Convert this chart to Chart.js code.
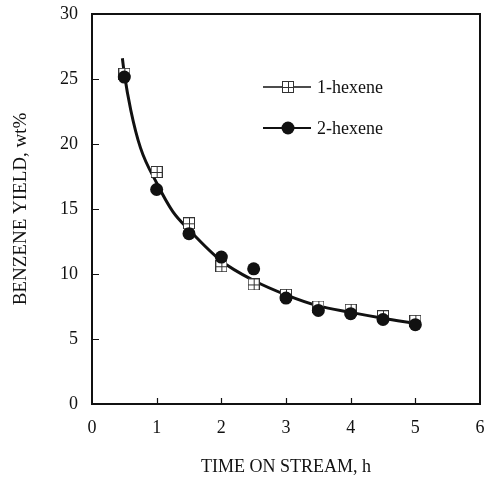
<!DOCTYPE html>
<html>
<head>
<meta charset="utf-8">
<script src="https://cdn.jsdelivr.net/npm/chart.js@4"></script>
<style>
  html, body { margin: 0; padding: 0; background: #fff; }
  #wrap { width: 487px; height: 478px; }
</style>
</head>
<body>
<div id="wrap"><canvas id="chart" width="487" height="478"></canvas></div>
<script>
// ================== Data ==================
const hours = [0.5, 1, 1.5, 2, 2.5, 3, 3.5, 4, 4.5, 5];
const hexene1 = [25.4, 17.85, 13.9, 10.6, 9.2, 8.4, 7.5, 7.25, 6.75, 6.4];
const hexene2 = [25.15, 16.5, 13.1, 11.3, 10.4, 8.15, 7.2, 6.95, 6.5, 6.1];

// smooth trend line
const fitHours = [0.47, 0.5, 0.6, 0.75, 1, 1.25, 1.5, 2, 2.5, 3, 3.5, 4, 4.5, 5];
const fitYield = [26.6, 25.4, 22.6, 19.7, 17.0, 14.8, 13.4, 11.0, 9.5, 8.4, 7.55, 7.05, 6.6, 6.2];

const xTicks = [0, 1, 2, 3, 4, 5, 6];
const yTicks = [0, 5, 10, 15, 20, 25, 30];
const seriesNames = ["1-hexene", "2-hexene"];

const FONT = "'Liberation Serif', 'Times New Roman', serif";
const INK = "#111";

// ================== Helpers ==================
const toPoints = (xs, ys) => xs.map((x, i) => ({ x: x, y: ys[i] }));

// square with a plus inside (1-hexene marker)
function makeBoxMarker(size) {
  const c = document.createElement("canvas");
  c.width = size;
  c.height = size;
  const g = c.getContext("2d");
  g.fillStyle = "#fff";
  g.fillRect(0, 0, size, size);
  g.strokeStyle = "#333";
  g.lineWidth = 1;
  g.strokeRect(0.5, 0.5, size - 1, size - 1);
  const m = Math.floor(size / 2) + 0.5;
  g.beginPath();
  g.moveTo(m, 1); g.lineTo(m, size - 1);
  g.moveTo(1, m); g.lineTo(size - 1, m);
  g.stroke();
  return c;
}
const boxMarker = makeBoxMarker(12);

// ================== Plugins ==================
// frame plus inward tick marks
const framePlugin = {
  id: "frame",
  afterDatasetsDraw(chart) {
    const { ctx, chartArea: a, scales } = chart;
    ctx.save();
    ctx.strokeStyle = INK;
    ctx.lineWidth = 2;
    ctx.strokeRect(a.left, a.top, a.right - a.left, a.bottom - a.top);
    ctx.lineWidth = 1.2;
    ctx.beginPath();
    yTicks.slice(1, -1).forEach((v) => {
      const py = Math.round(scales.y.getPixelForValue(v)) + 0.5;
      ctx.moveTo(a.left, py);
      ctx.lineTo(a.left + 7, py);
    });
    xTicks.slice(1, -1).forEach((v) => {
      const px = Math.round(scales.x.getPixelForValue(v)) + 0.5;
      ctx.moveTo(px, a.bottom);
      ctx.lineTo(px, a.bottom - 6);
    });
    ctx.stroke();
    ctx.restore();
  },
};

// legend drawn inside the plot, top right
const legendPlugin = {
  id: "innerLegend",
  afterDatasetsDraw(chart) {
    const { ctx } = chart;
    const rows = [
      { name: seriesNames[0], y: 87, marker: "box" },
      { name: seriesNames[1], y: 128, marker: "dot" },
    ];
    ctx.save();
    rows.forEach((r) => {
      ctx.strokeStyle = INK;
      ctx.lineWidth = r.marker === "dot" ? 2 : 1.5;
      ctx.beginPath();
      ctx.moveTo(263, r.y);
      ctx.lineTo(311, r.y);
      ctx.stroke();
      if (r.marker === "box") {
        ctx.drawImage(boxMarker, 288 - 6, r.y - 6);
      } else {
        ctx.fillStyle = INK;
        ctx.beginPath();
        ctx.arc(288, r.y, 6.5, 0, Math.PI * 2);
        ctx.fill();
      }
      ctx.fillStyle = INK;
      ctx.font = "18px " + FONT;
      ctx.textBaseline = "middle";
      ctx.textAlign = "left";
      ctx.fillText(r.name, 317, r.y + 1);
    });
    ctx.restore();
  },
};

// ================== Chart ==================
const ctx = document.getElementById("chart").getContext("2d");
const chart = new Chart(ctx, {
  type: "scatter",
  data: {
    datasets: [
      {
        label: "fit",
        data: toPoints(fitHours, fitYield),
        showLine: true,
        borderColor: INK,
        borderWidth: 3,
        pointRadius: 0,
        cubicInterpolationMode: "monotone",
        order: 3,
      },
      {
        label: seriesNames[0],
        data: toPoints(hours, hexene1),
        pointStyle: boxMarker,
        pointRadius: 6,
        order: 2,
      },
      {
        label: seriesNames[1],
        data: toPoints(hours, hexene2),
        pointStyle: "circle",
        pointRadius: 6.5,
        backgroundColor: INK,
        borderColor: INK,
        borderWidth: 0,
        order: 1,
      },
    ],
  },
  options: {
    responsive: false,
    animation: false,
    layout: { padding: { top: 14, right: 7, left: 0, bottom: 0 } },
    plugins: { legend: { display: false }, tooltip: { enabled: false } },
    scales: {
      x: {
        type: "linear",
        min: 0,
        max: 6,
        afterFit: (s) => {
          s.height = 74;
          s.paddingLeft = 0;
          s.paddingRight = 0;
        },
        afterBuildTicks: (s) => { s.ticks = xTicks.map((v) => ({ value: v })); },
        grid: { display: false, drawTicks: false },
        border: { display: false },
        ticks: { color: INK, font: { family: FONT, size: 18 }, padding: 13, maxRotation: 0 },
        title: {
          display: true,
          text: "TIME ON STREAM, h",
          color: INK,
          font: { family: FONT, size: 18 },
          padding: { top: 0, bottom: 0 },
        },
      },
      y: {
        type: "linear",
        min: 0,
        max: 30,
        afterFit: (s) => {
          s.width = 92;
          s.paddingTop = 0;
          s.paddingBottom = 0;
        },
        afterBuildTicks: (s) => { s.ticks = yTicks.map((v) => ({ value: v })); },
        grid: { display: false, drawTicks: false },
        border: { display: false },
        ticks: { color: INK, font: { family: FONT, size: 18 }, padding: 14 },
        title: {
          display: true,
          text: "BENZENE YIELD, wt%",
          color: INK,
          font: { family: FONT, size: 19 },
          padding: { top: 10, bottom: 0 },
        },
      },
    },
  },
  plugins: [framePlugin, legendPlugin],
});
</script>
</body>
</html>
